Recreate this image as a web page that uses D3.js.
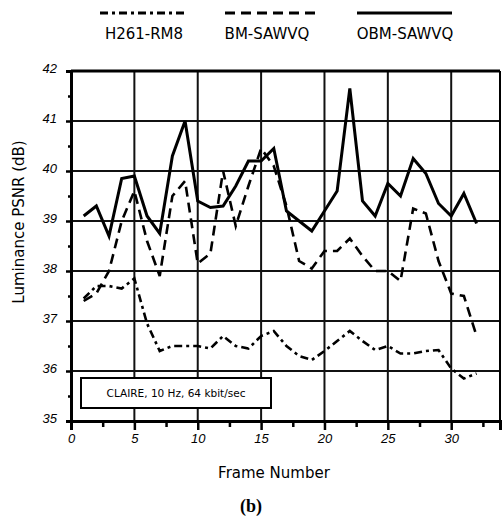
<!DOCTYPE html>
<html>
<head>
<meta charset="utf-8">
<script src="https://cdn.jsdelivr.net/npm/d3@7"></script>
<style>
  body { margin: 0; background: #fff; }
  svg { display: block; font-family: "DejaVu Sans", sans-serif; }
</style>
</head>
<body>
<div id="chart"></div>
<script>
const frames = d3.range(1, 33);
const h261 = [37.45, 37.7, 37.7, 37.65, 37.85, 36.95, 36.4, 36.5, 36.5, 36.5, 36.45, 36.7, 36.5, 36.45, 36.7, 36.8,
              36.5, 36.3, 36.22, 36.4, 36.6, 36.8, 36.6, 36.42, 36.5, 36.35, 36.35, 36.4, 36.42, 36.05, 35.85, 35.95];
const bm   = [37.4, 37.55, 38.0, 39.0, 39.6, 38.6, 37.9, 39.5, 39.8, 38.15, 38.35, 40.0, 38.9, 39.7, 40.45, 40.1,
              39.3, 38.2, 38.05, 38.4, 38.4, 38.65, 38.3, 38.0, 38.0, 37.8, 39.25, 39.15, 38.2, 37.55, 37.5, 36.7];
const obm  = [39.1, 39.3, 38.7, 39.85, 39.9, 39.1, 38.75, 40.3, 41.0, 39.4, 39.27, 39.3, 39.7, 40.2, 40.2, 40.45,
              39.2, 39.0, 38.8, 39.2, 39.6, 41.65, 39.4, 39.1, 39.75, 39.5, 40.25, 39.95, 39.35, 39.1, 39.55, 38.95];
const seriesNames = ["H261-RM8", "BM-SAWVQ", "OBM-SAWVQ"];
const xTicks = [0, 5, 10, 15, 20, 25, 30];
const yTicks = [35, 36, 37, 38, 39, 40, 41, 42];

const width = 503, height = 517;
const svg = d3.select("#chart").append("svg")
  .attr("width", width).attr("height", height);

const x = d3.scaleLinear().domain([0, 33.85]).range([71, 500]);
const y = d3.scaleLinear().domain([35, 42]).range([421, 71]);

const styles = [
  {dash: "8,4,3,4", w: 2.6},
  {dash: "10,6", w: 2.6},
  {dash: null, w: 3}
];

// grid
svg.append("g").selectAll("line").data(yTicks.slice(1, -1)).join("line")
  .attr("x1", x(0)).attr("x2", x(33.85))
  .attr("y1", d => y(d)).attr("y2", d => y(d))
  .attr("stroke", "#111").attr("stroke-width", 2);
svg.append("g").selectAll("line").data(xTicks.slice(1)).join("line")
  .attr("x1", d => x(d)).attr("x2", d => x(d))
  .attr("y1", y(35)).attr("y2", y(42))
  .attr("stroke", "#111").attr("stroke-width", 2);

// frame: top and right
svg.append("line").attr("x1", x(0)).attr("x2", x(33.85)).attr("y1", y(42)).attr("y2", y(42))
  .attr("stroke", "#000").attr("stroke-width", 3);
svg.append("line").attr("x1", x(33.85)).attr("x2", x(33.85)).attr("y1", y(42)).attr("y2", y(35))
  .attr("stroke", "#000").attr("stroke-width", 2);

// axes
const xAxis = svg.append("g").attr("transform", `translate(0,${y(35)})`)
  .call(d3.axisBottom(x).tickValues(xTicks).tickSize(9).tickPadding(4).tickFormat(d3.format("d")));
svg.append("g").attr("transform", `translate(0,${y(35)})`)
  .call(d3.axisBottom(x).tickValues(d3.range(2.5, 33, 5)).tickSize(6).tickFormat(""))
  .select(".domain").remove();
const yAxis = svg.append("g").attr("transform", `translate(${x(0)},0)`)
  .call(d3.axisLeft(y).tickValues(yTicks).tickSize(5).tickPadding(9).tickFormat(d3.format("d")));
svg.append("g").attr("transform", `translate(${x(0)},0)`)
  .call(d3.axisLeft(y).tickValues(d3.range(35.5, 42, 1)).tickSize(3).tickFormat(""))
  .select(".domain").remove();

svg.selectAll(".domain").attr("stroke", "#000").attr("stroke-width", 3);
svg.selectAll(".tick line").attr("stroke", "#000").attr("stroke-width", 2.5);
xAxis.selectAll("text").attr("font-size", 13).attr("font-style", "italic").attr("fill", "#000");
yAxis.selectAll("text").attr("font-size", 13).attr("font-style", "italic").attr("fill", "#000").attr("dy", "0.1em");

// lines
const line = d3.line().x((d, i) => x(frames[i])).y(d => y(d));
[h261, bm, obm].forEach((vals, i) => {
  svg.append("path").datum(vals)
    .attr("fill", "none").attr("stroke", "#000")
    .attr("stroke-width", styles[i].w)
    .attr("stroke-linejoin", "miter")
    .attr("stroke-dasharray", styles[i].dash)
    .attr("d", line);
});

// annotation box
svg.append("rect").attr("x", 81).attr("y", 378).attr("width", 190).attr("height", 30)
  .attr("fill", "#fff").attr("stroke", "#000").attr("stroke-width", 2);
svg.append("text").attr("x", 176).attr("y", 397).attr("text-anchor", "middle")
  .attr("font-size", 10.5).text("CLAIRE, 10 Hz, 64 kbit/sec");

// legend
const legX = [[100, 187], [225, 316], [357, 452]];
const legTextX = [144, 267, 405];
seriesNames.forEach((name, i) => {
  svg.append("line").attr("x1", legX[i][0]).attr("x2", legX[i][1]).attr("y1", 13).attr("y2", 13)
    .attr("stroke", "#000").attr("stroke-width", 3)
    .attr("stroke-dasharray", styles[i].dash);
  svg.append("text").attr("x", legTextX[i]).attr("y", 39).attr("text-anchor", "middle")
    .attr("font-size", 15).text(name);
});

// axis titles
svg.append("text").attr("transform", "translate(24,222) rotate(-90)")
  .attr("text-anchor", "middle").attr("font-size", 15).text("Luminance PSNR (dB)");
svg.append("text").attr("x", 274).attr("y", 478).attr("text-anchor", "middle")
  .attr("font-size", 15).text("Frame Number");
svg.append("text").attr("x", 251).attr("y", 512).attr("text-anchor", "middle")
  .attr("font-size", 18).attr("font-weight", "bold").attr("font-family", "Liberation Serif, serif").text("(b)");
</script>
</body>
</html>
